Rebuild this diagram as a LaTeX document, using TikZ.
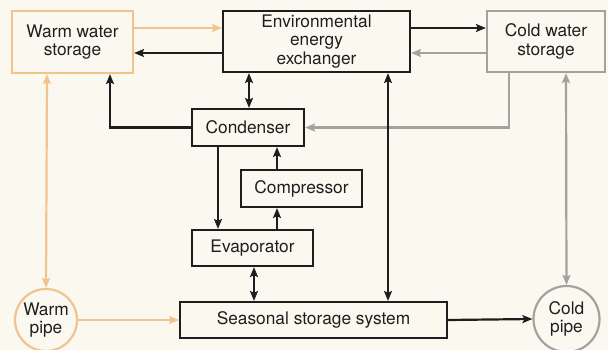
\documentclass[tikz,border=0pt]{standalone}
\usepackage{fontspec}
\setmainfont{TeX Gyre Heros}
\usetikzlibrary{arrows.meta}
\definecolor{bg}{HTML}{FBF8EF}
\definecolor{warmc}{HTML}{F1C48F}
\definecolor{coldc}{HTML}{A2A29F}
\definecolor{inkc}{HTML}{1E1E1E}
\begin{document}
\begin{tikzpicture}[x=1pt,y=-1pt,
  txt/.style={font=\fontsize{17.3}{18.5}\selectfont, align=center, text=inkc, inner sep=0pt},
  box/.style={txt, draw=inkc, line width=2.2pt, fill=bg, rectangle},
  wbox/.style={box, draw=warmc},
  cbox/.style={box, draw=coldc},
  wcirc/.style={txt, circle, draw=warmc, line width=2.2pt, fill=bg},
  ccirc/.style={txt, circle, draw=coldc, line width=2.2pt, fill=bg},
  tip/.tip={Stealth[length=10pt,width=8pt,inset=2pt]},
  blk/.style={draw=inkc, line width=2.2pt},
  wln/.style={draw=warmc, line width=2.2pt},
  cln/.style={draw=coldc, line width=2.2pt}]
\fill[bg] (0,0) rectangle (608,350);
\useasboundingbox (0,0) rectangle (608,350);

% nodes
\node[wbox, minimum width=121pt, minimum height=62pt] (warm) at (72.5,42) {Warm water\\storage};
\node[box, minimum width=187pt, minimum height=61pt] (env) at (316.5,41.5) {Environmental\\energy\\exchanger};
\node[cbox, minimum width=118pt, minimum height=61pt] (cold) at (546,41.5) {Cold water\\storage};
\node[box, minimum width=112pt, minimum height=37pt] (cond) at (248,127.5) {Condenser};
\node[box, minimum width=121pt, minimum height=37pt] (comp) at (301.5,188.5) {Compressor};
\node[box, minimum width=121pt, minimum height=36pt] (evap) at (252.5,248) {Evaporator};
\node[box, minimum width=267pt, minimum height=36pt] (seas) at (313.5,320) {Seasonal storage system};
\node[wcirc, minimum size=62pt] (wpipe) at (46,320) {Warm\\pipe};
\node[ccirc, minimum size=66pt] (cpipe) at (566.5,319) {Cold\\pipe};

% helper coordinates
\coordinate (ya) at (0,28);
\coordinate (yb) at (0,53);
\coordinate (xn) at (249,0);
\coordinate (xl) at (110,0);
\coordinate (xg) at (509,0);
\coordinate (xd) at (218,0);
\coordinate (xc) at (277,0);
\coordinate (xe) at (254,0);
\coordinate (xs) at (388,0);
\coordinate (xw) at (47,0);
\coordinate (xk) at (566,0);

% top row
\draw[wln, -tip] (warm.east |- ya) -- (env.west |- ya);
\draw[blk, -tip] (env.west |- yb) -- (warm.east |- yb);
\draw[blk, -tip] (env.east |- ya) -- (cold.west |- ya);
\draw[cln, -tip] (cold.west |- yb) -- (env.east |- yb);

% environmental exchanger <-> condenser
\draw[blk, tip-tip] (env.south -| xn) -- (cond.north -| xn);

% condenser -> warm water storage
\draw[blk, -tip] (cond.west) -- (cond.west -| xl) -- (warm.south -| xl);

% cold water storage -> condenser
\draw[cln, -tip] (cold.south -| xg) -- (cond.east -| xg) -- (cond.east);

% refrigeration loop
\draw[blk, -tip] (cond.south -| xd) -- (evap.north -| xd);
\draw[blk, -tip] (comp.north -| xc) -- (cond.south -| xc);
\draw[blk, -tip] (evap.north -| xc) -- (comp.south -| xc);
\draw[blk, tip-tip] (evap.south -| xe) -- (seas.north -| xe);

% seasonal storage <-> environmental exchanger
\draw[blk, tip-tip] (seas.north -| xs) -- (env.south -| xs);

% pipes
\draw[wln, tip-tip] (warm.south -| xw) -- (wpipe.north);
\draw[wln, -tip] (wpipe.east) -- (seas.west);
\draw[blk, -tip] (seas.east) -- (cpipe.west);
\draw[cln, tip-tip] (cold.south -| xk) -- (cpipe.north);
\end{tikzpicture}
\end{document}
